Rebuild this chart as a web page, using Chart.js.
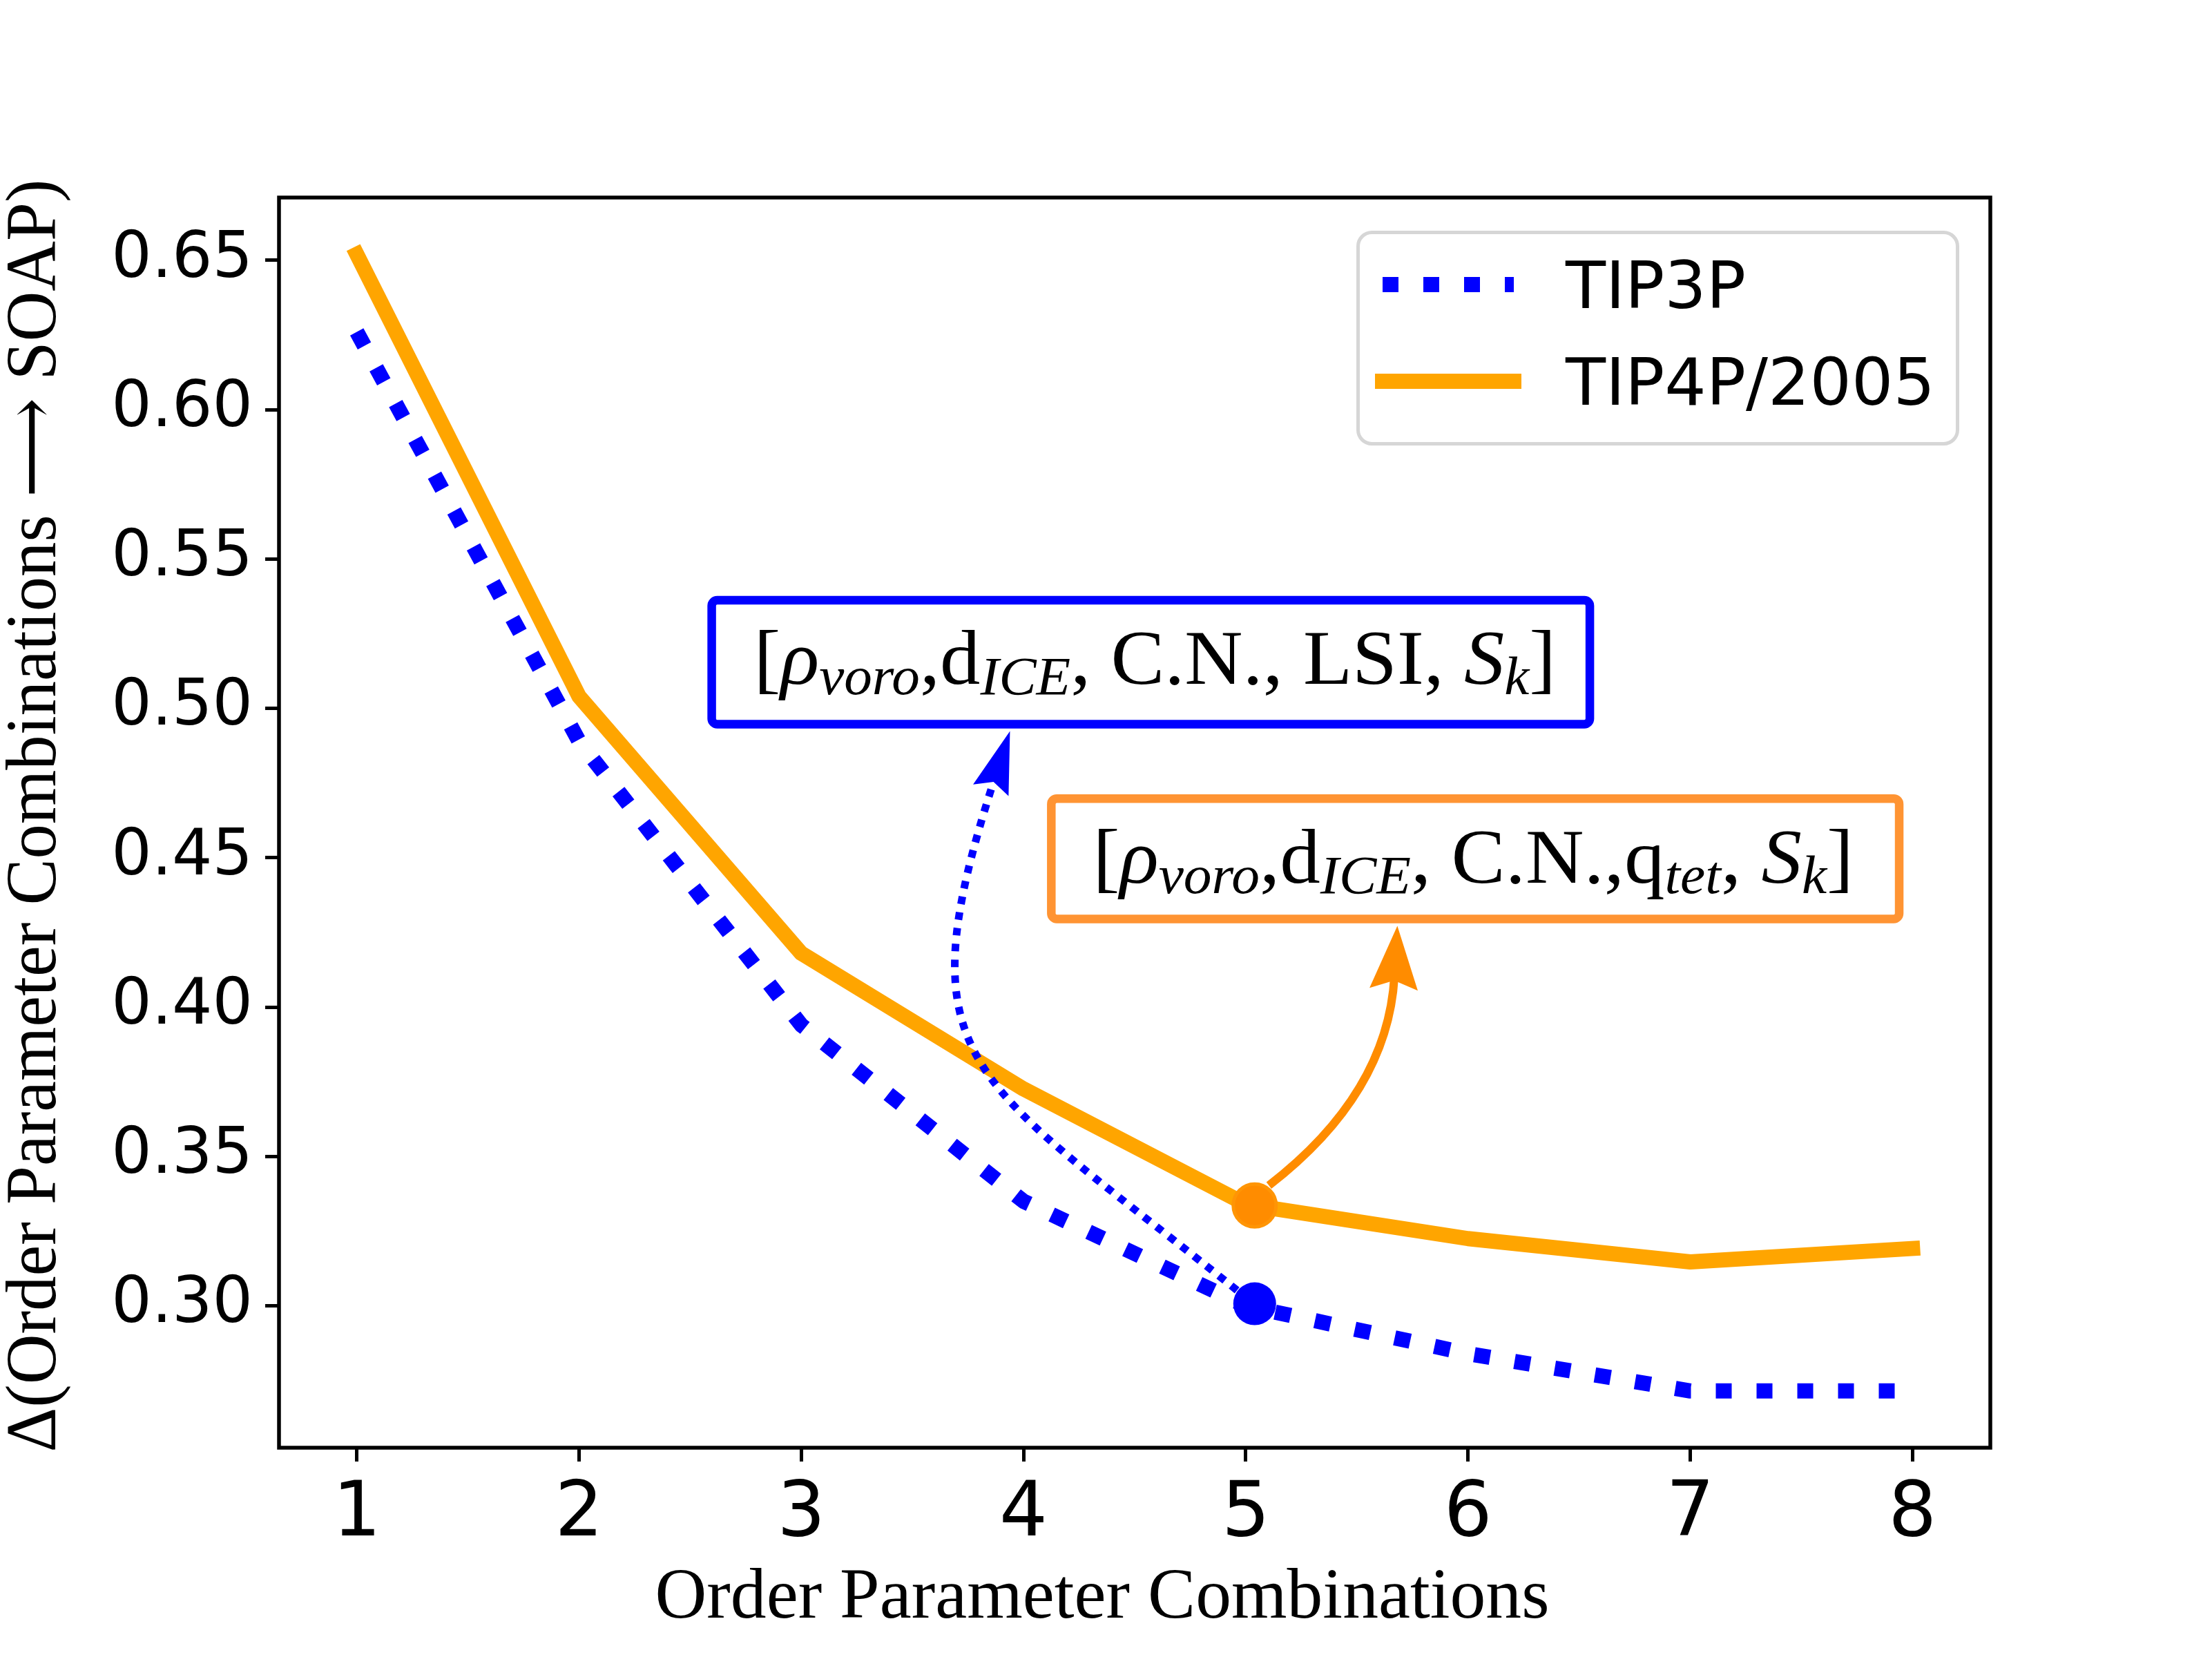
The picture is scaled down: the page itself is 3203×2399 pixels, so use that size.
<!DOCTYPE html>
<html>
<head>
<meta charset="utf-8">
<title>Order parameter combinations vs SOAP</title>
<script src="https://cdn.jsdelivr.net/npm/chart.js@4.4.1/dist/chart.umd.min.js"></script>
<style>
  html, body { margin: 0; padding: 0; background: #fff; }
  canvas { display: block; }
</style>
</head>
<body>
<canvas id="chart" width="3203" height="2399"></canvas>
<script>
// values
const categories = [1, 2, 3, 4, 5, 6, 7, 8];
const tip3pValues = [0.626, 0.489, 0.394, 0.335, 0.300, 0.284, 0.2715, 0.2715];
const tip4pValues = [0.652, 0.504, 0.418, 0.3726, 0.334, 0.3225, 0.3147, 0.3192];
const xTickValues = [1, 2, 3, 4, 5, 6, 7, 8];
const yTickValues = [0.30, 0.35, 0.40, 0.45, 0.50, 0.55, 0.60, 0.65];
const highlightX = [5.04];
const highlightTip3p = [0.3007];
const highlightTip4p = [0.3336];

const xLabelText = 'Order Parameter Combinations';
const yLabelText = 'Δ(Order Parameter Combinations ⟶ SOAP)';

const SERIF = '"Liberation Serif", "DejaVu Serif", serif';
const SANS = '"DejaVu Sans", sans-serif';

// annotation boxes, in data units
const boxes = [
  {
    color: '#0000FF', x0: 2.597, x1: 6.548, y0: 0.5362, y1: 0.4947,
    tx0: 2.786, tx1: 6.396, ty: 0.5083,
    segs: [
      { t: '[' }, { t: 'ρ', it: true }, { t: 'voro', it: true, sub: true }, { t: ',' },
      { t: 'd' }, { t: 'ICE', it: true, sub: true }, { t: ', C.N., LSI, ' },
      { t: 'S', it: true }, { t: 'k', it: true, sub: true }, { t: ']' }
    ]
  },
  {
    color: '#FF9433', x0: 4.125, x1: 7.940, y0: 0.4698, y1: 0.4295,
    tx0: 4.312, tx1: 7.735, ty: 0.4417,
    segs: [
      { t: '[' }, { t: 'ρ', it: true }, { t: 'voro', it: true, sub: true }, { t: ',' },
      { t: 'd' }, { t: 'ICE', it: true, sub: true }, { t: ', C.N.,' },
      { t: 'q' }, { t: 'tet', it: true, sub: true }, { t: ', ' },
      { t: 'S', it: true }, { t: 'k', it: true, sub: true }, { t: ']' }
    ]
  }
];

// curved arrows from the highlighted points to the boxes, data units
const arrows = [
  { color: '#FF8C00', width: 12, dash: [], headLen: 92, headHalf: 35,
    pts: [[5.104, 0.3403], [5.638, 0.3710], [5.682, 0.4272]] },
  { color: '#0000FF', width: 11, dash: [11, 12], headLen: 90, headHalf: 27,
    pts: [[5.017, 0.3018], [3.763, 0.3774], [3.442, 0.3783], [3.939, 0.4924]] }
];

function toPoints(xs, ys) {
  return xs.map((x, i) => ({ x: x, y: ys[i] }));
}

function drawMath(ctx, segs, x0, x1, baseline, size) {
  const fontFor = s => (s.it ? 'italic ' : '') + Math.round(s.sub ? size * 0.7 : size) + 'px ' + SERIF;
  let w = 0;
  segs.forEach(s => { ctx.font = fontFor(s); w += ctx.measureText(s.t).width; });
  ctx.save();
  ctx.translate(x0, baseline);
  ctx.scale((x1 - x0) / w, 1);
  ctx.fillStyle = '#000';
  ctx.textBaseline = 'alphabetic';
  ctx.textAlign = 'left';
  let x = 0;
  segs.forEach(s => {
    ctx.font = fontFor(s);
    ctx.fillText(s.t, x, s.sub ? size * 0.14 : 0);
    x += ctx.measureText(s.t).width;
  });
  ctx.restore();
}

function drawArrow(ctx, a, sx, sy) {
  const p = a.pts.map(q => [sx.getPixelForValue(q[0]), sy.getPixelForValue(q[1])]);
  const tip = p[p.length - 1];
  const prev = p[p.length - 2];
  let dx = tip[0] - prev[0], dy = tip[1] - prev[1];
  const len = Math.hypot(dx, dy);
  dx /= len; dy /= len;
  ctx.save();
  ctx.strokeStyle = a.color;
  ctx.lineWidth = a.width;
  ctx.setLineDash(a.dash);
  ctx.lineCap = 'butt';
  ctx.beginPath();
  ctx.moveTo(p[0][0], p[0][1]);
  const endX = tip[0] - dx * a.headLen * 0.8, endY = tip[1] - dy * a.headLen * 0.8;
  if (p.length === 3) ctx.quadraticCurveTo(p[1][0], p[1][1], endX, endY);
  else ctx.bezierCurveTo(p[1][0], p[1][1], p[2][0], p[2][1], endX, endY);
  ctx.stroke();
  ctx.setLineDash([]);
  const bx = tip[0] - dx * a.headLen, by = tip[1] - dy * a.headLen;
  const nx = -dy, ny = dx;
  ctx.fillStyle = a.color;
  ctx.beginPath();
  ctx.moveTo(tip[0], tip[1]);
  ctx.lineTo(bx + nx * a.headHalf, by + ny * a.headHalf);
  ctx.lineTo(tip[0] - dx * a.headLen * 0.86, tip[1] - dy * a.headLen * 0.86);
  ctx.lineTo(bx - nx * a.headHalf, by - ny * a.headHalf);
  ctx.closePath();
  ctx.fill();
  ctx.restore();
}

function roundRect(ctx, x, y, w, h, r) {
  ctx.beginPath();
  ctx.moveTo(x + r, y);
  ctx.arcTo(x + w, y, x + w, y + h, r);
  ctx.arcTo(x + w, y + h, x, y + h, r);
  ctx.arcTo(x, y + h, x, y, r);
  ctx.arcTo(x, y, x + w, y, r);
  ctx.closePath();
}

const decor = {
  id: 'decor',
  beforeDraw(chart) {
    const ctx = chart.ctx;
    ctx.save();
    ctx.fillStyle = '#fff';
    ctx.fillRect(0, 0, chart.width, chart.height);
    ctx.restore();
  },
  afterDatasetsDraw(chart) {
    const ctx = chart.ctx;
    const sx = chart.scales.x, sy = chart.scales.y;
    arrows.forEach(a => drawArrow(ctx, a, sx, sy));

    boxes.forEach(b => {
      const x0 = sx.getPixelForValue(b.x0), x1 = sx.getPixelForValue(b.x1);
      const y0 = sy.getPixelForValue(b.y0), y1 = sy.getPixelForValue(b.y1);
      ctx.save();
      roundRect(ctx, x0, y0, x1 - x0, y1 - y0, 8);
      ctx.fillStyle = '#fff';
      ctx.fill();
      ctx.lineWidth = 12.5;
      ctx.strokeStyle = b.color;
      ctx.stroke();
      ctx.restore();
      drawMath(ctx, b.segs, sx.getPixelForValue(b.tx0), sx.getPixelForValue(b.tx1),
        sy.getPixelForValue(b.ty), 112);
    });
  },
  afterDraw(chart) {
    const ctx = chart.ctx;
    const ca = chart.chartArea;

    // legend
    const lw = 873, lh = 311;
    const lx = ca.right - 45 - lw, ly = ca.top + 48;
    ctx.save();
    roundRect(ctx, lx + 2.5, ly + 2.5, lw - 5, lh - 5, 20);
    ctx.fillStyle = 'rgba(255,255,255,0.8)';
    ctx.fill();
    ctx.lineWidth = 5;
    ctx.strokeStyle = '#d6d6d6';
    ctx.stroke();
    const rows = chart.data.datasets.filter(d => d.label);
    rows.forEach((d, i) => {
      const cy = ly + 78 + i * 140;
      ctx.strokeStyle = d.borderColor;
      ctx.lineWidth = d.borderWidth;
      ctx.setLineDash(d.borderDash || []);
      ctx.lineCap = d.borderCapStyle || 'butt';
      ctx.beginPath();
      ctx.moveTo(lx + 38, cy);
      ctx.lineTo(lx + 228, cy);
      ctx.stroke();
      ctx.setLineDash([]);
      ctx.fillStyle = '#000';
      ctx.font = '95px ' + SANS;
      ctx.textBaseline = 'alphabetic';
      ctx.textAlign = 'left';
      ctx.fillText(d.label, lx + 303, ly + 112 + i * 140);
    });
    ctx.restore();

    // axes frame
    ctx.save();
    ctx.strokeStyle = '#000';
    ctx.lineWidth = 5.5;
    ctx.strokeRect(ca.left, ca.top, ca.right - ca.left, ca.bottom - ca.top);
    ctx.restore();

    // axis titles
    ctx.save();
    ctx.fillStyle = '#000';
    ctx.textBaseline = 'alphabetic';
    ctx.textAlign = 'center';
    ctx.font = '104px ' + SERIF;
    let w = ctx.measureText(xLabelText).width;
    ctx.translate(1596, 2342);
    ctx.scale(1295 / w, 1);
    ctx.fillText(xLabelText, 0, 0);
    ctx.restore();

    ctx.save();
    ctx.fillStyle = '#000';
    ctx.textBaseline = 'alphabetic';
    ctx.textAlign = 'center';
    ctx.font = '104px ' + SERIF;
    w = ctx.measureText(yLabelText).width;
    ctx.translate(80, 1181);
    ctx.rotate(-Math.PI / 2);
    ctx.scale(1843 / w, 1);
    ctx.fillText(yLabelText, 0, 0);
    ctx.restore();
  }
};

const chartData = {
  datasets: [
    {
      data: toPoints(highlightX, highlightTip3p),
      showLine: false,
      pointRadius: 31,
      pointBackgroundColor: '#0000FF',
      pointBorderColor: '#0000FF',
      pointBorderWidth: 0
    },
    {
      data: toPoints(highlightX, highlightTip4p),
      showLine: false,
      pointRadius: 31,
      pointBackgroundColor: '#FF8C00',
      pointBorderColor: '#FF9505',
      pointBorderWidth: 5
    },
    {
      label: 'TIP3P',
      data: toPoints(categories, tip3pValues),
      borderColor: '#0000FF',
      borderWidth: 22,
      borderDash: [23, 36],
      borderCapStyle: 'butt',
      borderJoinStyle: 'round',
      pointRadius: 0,
      tension: 0
    },
    {
      label: 'TIP4P/2005',
      data: toPoints(categories, tip4pValues),
      borderColor: '#FFA500',
      borderWidth: 22,
      borderCapStyle: 'square',
      borderJoinStyle: 'round',
      pointRadius: 0,
      tension: 0
    }
  ]
};

const chartConfig = {
  type: 'line',
  data: chartData,
  options: {
    responsive: false,
    devicePixelRatio: 1,
    animation: false,
    events: [],
    layout: { padding: { left: 0, top: 286, right: 321, bottom: 0 } },
    plugins: { legend: { display: false }, tooltip: { enabled: false } },
    scales: {
      x: {
        type: 'linear',
        min: 0.65,
        max: 8.35,
        afterBuildTicks: scale => { scale.ticks = xTickValues.map(v => ({ value: v })); },
        afterFit: scale => { scale.height = 303; },
        ticks: {
          font: { family: SANS, size: 110 },
          color: '#000',
          padding: 12,
          maxRotation: 0,
          callback: v => String(v)
        },
        grid: { drawOnChartArea: false, drawTicks: true, tickLength: 20, lineWidth: 5, color: '#000' },
        border: { display: false }
      },
      y: {
        type: 'linear',
        min: 0.2525,
        max: 0.671,
        afterBuildTicks: scale => { scale.ticks = yTickValues.map(v => ({ value: v })); },
        afterFit: scale => { scale.width = 404; },
        ticks: {
          font: { family: SANS, size: 92 },
          color: '#000',
          padding: 18,
          callback: v => v.toFixed(2)
        },
        grid: { drawOnChartArea: false, drawTicks: true, tickLength: 20, lineWidth: 5, color: '#000' },
        border: { display: false }
      }
    }
  },
  plugins: [decor]
};

new Chart(document.getElementById('chart').getContext('2d'), chartConfig);
</script>
</body>
</html>
